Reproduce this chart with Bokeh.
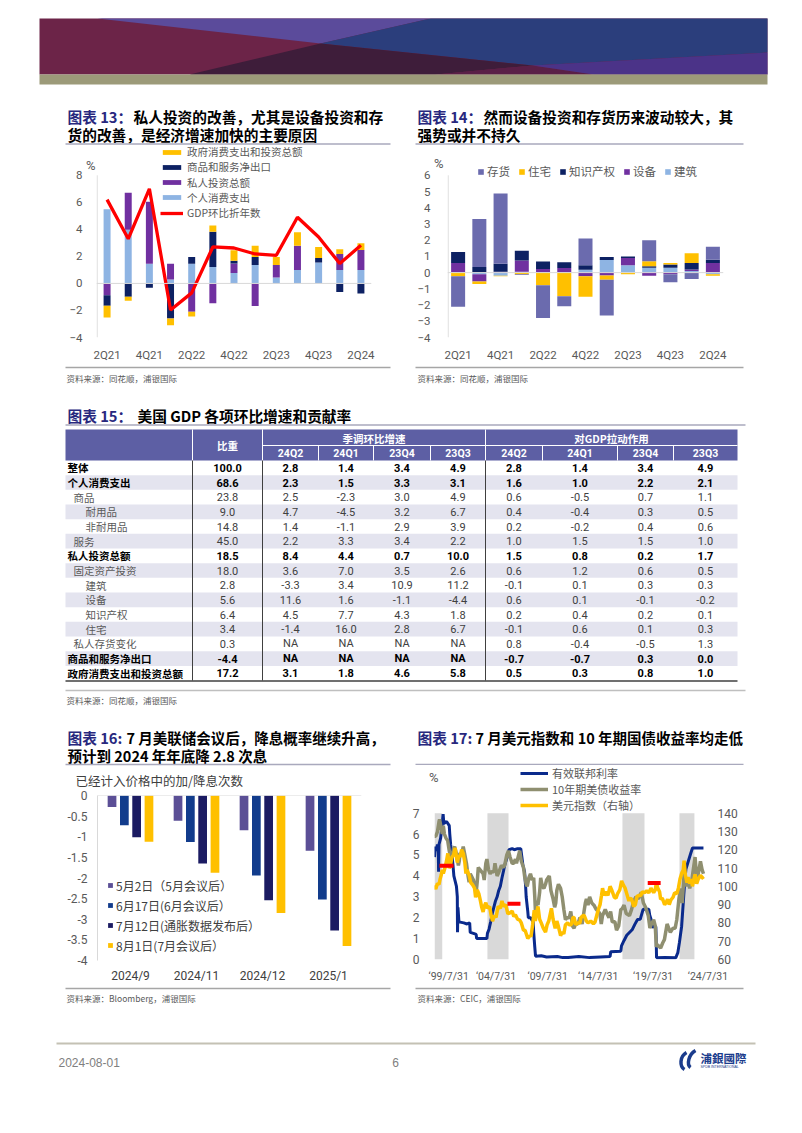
from bokeh.plotting import figure
from bokeh.layouts import column, row
from bokeh.models import (Range1d, FactorRange, FixedTicker, LinearAxis, Legend, LegendItem,
                          Span, ColumnDataSource, NumeralTickFormatter)
from bokeh.core.properties import value
from bokeh.embed import file_html
from bokeh.resources import INLINE
from bokeh.transform import dodge

# ---------------- DATA ----------------
# Chart 13
q13 = ["2Q21", "3Q21", "4Q21", "1Q22", "2Q22", "3Q22", "4Q22", "1Q23", "2Q23", "3Q23", "4Q23", "1Q24", "2Q24"]
pce13 = [5.49, 3.97, 1.45, 0.30, 1.45, 1.22, 0.78, 1.37, 0.44, 1.00, 1.54, 1.00, 1.00]
inv13 = [-0.88, 2.74, 4.60, 1.15, -2.10, -1.47, 0.69, -1.67, 0.93, 1.79, 0.00, 1.18, 1.47]
nx13 = [-0.78, -0.98, -0.32, -2.60, 0.50, 2.60, 0.20, 0.59, 0.00, 0.00, 0.34, -0.64, -0.74]
gov13 = [-0.86, -0.30, 0.00, -0.50, -0.35, 0.47, 0.78, 0.83, 0.59, 1.00, 0.81, 0.34, 0.51]
gdp13 = [6.2, 3.3, 7.0, -1.96, -0.7, 2.7, 2.62, 2.18, 2.08, 4.9, 3.43, 1.47, 2.82]
lab13 = ["政府消费支出和投资总额", "商品和服务净出口", "私人投资总额", "个人消费支出", "GDP环比折年数"]

# Chart 14
con14 = [0.00, -0.10, -0.20, 0.05, 0.00, 0.00, 0.18, 0.78, 0.45, 0.3, 0.3, 0.1, -0.1]
equ14 = [0.60, -0.45, 0.05, 0.70, 0.22, 0.29, -0.22, -0.17, 0.45, -0.2, -0.1, 0.1, 0.6]
ip14 = [0.67, 0.35, 0.50, 0.60, 0.47, 0.35, 0.27, 0.18, 0.10, 0.1, 0.2, 0.4, 0.2]
res14 = [-0.22, -0.15, -0.02, -0.10, -0.78, -1.45, -1.27, -0.27, -0.10, 0.3, 0.1, 0.6, -0.1]
stk14 = [-1.88, 2.95, 4.33, -0.05, -2.02, -0.63, 1.65, -2.20, 0.00, 1.3, -0.5, -0.4, 0.8]
lab14 = ["存货", "住宅", "知识产权", "设备", "建筑"]

# Table 15
rows15 = ["整体", "个人消费支出", "商品", "耐用品", "非耐用品", "服务", "私人投资总额", "固定资产投资",
          "建筑", "设备", "知识产权", "住宅", "私人存货变化", "商品和服务净出口", "政府消费支出和投资总额"]
indent15 = [0, 0, 1, 2, 2, 1, 0, 1, 2, 2, 2, 2, 1, 0, 0]
bold15 = [1, 1, 0, 0, 0, 0, 1, 0, 0, 0, 0, 0, 0, 1, 1]
weight15 = [100.0, 68.6, 23.8, 9.0, 14.8, 45.0, 18.5, 18.0, 2.8, 5.6, 6.4, 3.4, 0.3, -4.4, 17.2]
g24q2 = [2.8, 2.3, 2.5, 4.7, 1.4, 2.2, 8.4, 3.6, -3.3, 11.6, 4.5, -1.4, None, None, 3.1]
g24q1 = [1.4, 1.5, -2.3, -4.5, -1.1, 3.3, 4.4, 7.0, 3.4, 1.6, 7.7, 16.0, None, None, 1.8]
g23q4 = [3.4, 3.3, 3.0, 3.2, 2.9, 3.4, 0.7, 3.5, 10.9, -1.1, 4.3, 2.8, None, None, 4.6]
g23q3 = [4.9, 3.1, 4.9, 6.7, 3.9, 2.2, 10.0, 2.6, 11.2, -4.4, 1.8, 6.7, None, None, 5.8]
c24q2 = [2.8, 1.6, 0.6, 0.4, 0.2, 1.0, 1.5, 0.6, -0.1, 0.6, 0.2, -0.1, 0.8, -0.7, 0.5]
c24q1 = [1.4, 1.0, -0.5, -0.4, -0.2, 1.5, 0.8, 1.2, 0.1, 0.1, 0.4, 0.6, -0.4, -0.7, 0.3]
c23q4 = [3.4, 2.2, 0.7, 0.3, 0.4, 1.5, 0.2, 0.6, 0.3, -0.1, 0.2, 0.1, -0.5, 0.3, 0.8]
c23q3 = [4.9, 2.1, 1.1, 0.5, 0.6, 1.0, 1.7, 0.5, 0.3, -0.2, 0.1, 0.3, 1.3, 0.0, 1.0]
qhdr15 = ["24Q2", "24Q1", "23Q4", "23Q3", "24Q2", "24Q1", "23Q4", "23Q3"]

# Chart 16
g16 = ["2024/9", "2024/11", "2024/12", "2025/1"]
may2 = [-0.28, -0.61, -0.84, -1.34]
jun17 = [-0.72, -1.13, -1.94, -2.52]
jul12 = [-1.01, -1.65, -2.54, -3.27]
aug1 = [-1.12, -1.87, -2.85, -3.65]
lab16 = ["5月2日（5月会议后）", "6月17日(6月会议后）", "7月12日(通胀数据发布后）", "8月1日(7月会议后）"]

# Chart 17 (decimal years)
ffr_t = [1999.58, 1999.65, 1999.75, 1999.85, 1999.93, 1999.96, 2000.0, 2000.15, 2000.3, 2000.38, 2000.45,
         2000.7, 2000.95, 2001.0, 2001.08, 2001.2, 2001.3, 2001.38, 2001.5, 2001.62, 2001.7, 2001.72, 2001.76,
         2001.85, 2002.3, 2002.6, 2002.85, 2002.9, 2003.2, 2003.45, 2003.5, 2004.0, 2004.45, 2004.5, 2004.65,
         2004.8, 2004.95, 2005.1, 2005.25, 2005.4, 2005.55, 2005.7, 2005.85, 2006.0, 2006.1, 2006.25, 2006.4,
         2006.5, 2006.8, 2007.0, 2007.3, 2007.6, 2007.7, 2007.8, 2007.95, 2008.05, 2008.1, 2008.25, 2008.3,
         2008.5, 2008.75, 2008.8, 2008.9, 2008.97, 2009.5, 2010.0, 2011.0, 2011.5, 2012.0, 2013.0, 2014.0,
         2015.0, 2015.9, 2015.96, 2016.9, 2016.96, 2017.2, 2017.45, 2017.95, 2018.2, 2018.45, 2018.7, 2018.97,
         2019.5, 2019.58, 2019.72, 2019.83, 2020.15, 2020.18, 2020.22, 2021.0, 2022.0, 2022.2, 2022.35,
         2022.45, 2022.55, 2022.65, 2022.75, 2022.85, 2022.95, 2023.1, 2023.25, 2023.4, 2023.56, 2024.58]
ffr_v = [4.9, 5.4, 5.2, 5.5, 5.3, 4.2, 5.5, 5.8, 6.5, 6.95, 6.5,
         6.6, 6.4, 6.0, 5.5, 5.0, 4.5, 4.0, 3.75, 3.5, 3.0, 1.3, 2.5,
         1.8, 1.75, 1.7, 1.75, 1.3, 1.25, 1.2, 1.0, 1.0, 1.0, 1.25, 1.45,
         1.8, 2.2, 2.5, 2.8, 3.0, 3.3, 3.5, 3.9, 4.25, 4.5, 4.75, 5.0,
         5.25, 5.3, 5.25, 5.3, 5.3, 4.9, 4.5, 4.2, 3.5, 3.0, 2.3, 2.0,
         2.0, 1.8, 1.3, 0.6, 0.16, 0.18, 0.12, 0.14, 0.09, 0.10, 0.14, 0.09,
         0.12, 0.14, 0.37, 0.40, 0.65, 0.91, 1.16, 1.42, 1.68, 1.91, 1.92, 2.40,
         2.40, 2.13, 1.90, 1.55, 1.58, 1.10, 0.08, 0.09, 0.08, 0.33, 0.83,
         1.21, 1.58, 2.33, 3.08, 3.78, 4.33, 4.58, 4.83, 5.08, 5.33, 5.33]
ust_t = [1999.58, 1999.7, 1999.85, 2000.0, 2000.05, 2000.2, 2000.3, 2000.4, 2000.5, 2000.65, 2000.8, 2000.95,
         2001.05, 2001.2, 2001.35, 2001.45, 2001.6, 2001.7, 2001.8, 2001.88, 2001.95, 2002.1, 2002.25, 2002.4,
         2002.55, 2002.7, 2002.8, 2002.9, 2003.0, 2003.2, 2003.45, 2003.55, 2003.65, 2003.8, 2003.95, 2004.1,
         2004.2, 2004.35, 2004.45, 2004.6, 2004.75, 2004.9, 2005.1, 2005.2, 2005.4, 2005.5, 2005.65, 2005.8,
         2005.95, 2006.1, 2006.3, 2006.45, 2006.6, 2006.8, 2006.95, 2007.1, 2007.2, 2007.45, 2007.5, 2007.65,
         2007.85, 2007.95, 2008.1, 2008.2, 2008.35, 2008.5, 2008.65, 2008.8, 2008.9, 2008.97, 2009.1, 2009.2,
         2009.35, 2009.45, 2009.6, 2009.75, 2009.9, 2010.0, 2010.25, 2010.4, 2010.6, 2010.75, 2010.85, 2010.95,
         2011.1, 2011.3, 2011.45, 2011.6, 2011.75, 2011.9, 2012.1, 2012.25, 2012.4, 2012.55, 2012.7, 2012.9,
         2013.1, 2013.3, 2013.45, 2013.6, 2013.7, 2013.85, 2014.0, 2014.2, 2014.4, 2014.6, 2014.8, 2014.95,
         2015.08, 2015.2, 2015.45, 2015.6, 2015.8, 2015.95, 2016.1, 2016.35, 2016.5, 2016.7, 2016.9, 2017.0,
         2017.2, 2017.4, 2017.7, 2017.9, 2018.1, 2018.3, 2018.5, 2018.8, 2019.0, 2019.2, 2019.45, 2019.6,
         2019.75, 2019.95, 2020.1, 2020.2, 2020.3, 2020.6, 2020.8, 2020.95, 2021.2, 2021.5, 2021.75, 2021.95,
         2022.1, 2022.3, 2022.45, 2022.6, 2022.8, 2022.9, 2023.0, 2023.15, 2023.3, 2023.5, 2023.8, 2023.95,
         2024.1, 2024.3, 2024.45, 2024.58]
ust_v = [5.9, 5.9, 6.1, 6.6, 6.7, 6.3, 6.0, 6.4, 6.0, 5.8, 5.7, 5.2,
         5.0, 4.9, 5.3, 5.4, 5.1, 4.8, 4.5, 4.7, 5.1, 5.0, 5.4, 5.0,
         4.6, 4.0, 3.7, 4.1, 4.0, 3.8, 3.2, 3.7, 4.4, 4.3, 4.2, 4.1,
         3.8, 4.6, 4.8, 4.3, 4.1, 4.2, 4.2, 4.6, 4.0, 4.1, 4.3, 4.5,
         4.4, 4.5, 5.0, 5.2, 4.9, 4.6, 4.6, 4.8, 4.6, 5.1, 5.2, 4.7,
         4.4, 4.0, 3.6, 3.5, 3.9, 4.1, 3.8, 3.9, 3.0, 2.2, 2.8, 2.6,
         3.2, 3.9, 3.5, 3.4, 3.6, 3.8, 4.0, 3.3, 2.9, 2.5, 2.7, 3.3,
         3.6, 3.4, 3.0, 2.4, 1.9, 2.0, 2.0, 2.3, 1.6, 1.5, 1.7, 1.7,
         2.0, 1.7, 2.2, 2.7, 2.9, 2.6, 3.0, 2.7, 2.6, 2.4, 2.3, 2.2,
         1.7, 2.1, 2.4, 2.2, 2.0, 2.3, 1.8, 1.8, 1.4, 1.6, 2.4, 2.4,
         2.6, 2.2, 2.1, 2.4, 2.8, 3.0, 2.9, 3.2, 2.7, 2.5, 2.1, 1.5,
         1.7, 1.9, 1.6, 0.6, 0.7, 0.55, 0.8, 0.95, 1.7, 1.3, 1.5, 1.5,
         1.9, 2.9, 3.4, 2.7, 4.2, 3.7, 3.5, 3.9, 3.4, 3.8, 4.9, 3.9,
         4.1, 4.7, 4.3, 4.1]
dxy_t = [1999.58, 1999.7, 1999.85, 2000.0, 2000.1, 2000.2, 2000.3, 2000.4, 2000.55, 2000.7, 2000.82, 2000.95,
         2001.05, 2001.2, 2001.35, 2001.5, 2001.62, 2001.7, 2001.85, 2001.95, 2002.1, 2002.25, 2002.4, 2002.5,
         2002.6, 2002.8, 2002.95, 2003.1, 2003.3, 2003.4, 2003.55, 2003.7, 2003.85, 2003.95, 2004.1, 2004.2,
         2004.35, 2004.5, 2004.7, 2004.85, 2004.97, 2005.15, 2005.3, 2005.5, 2005.7, 2005.85, 2006.0, 2006.2,
         2006.4, 2006.6, 2006.8, 2006.95, 2007.1, 2007.3, 2007.5, 2007.65, 2007.85, 2008.0, 2008.25, 2008.45,
         2008.55, 2008.7, 2008.85, 2008.95, 2009.05, 2009.2, 2009.35, 2009.5, 2009.7, 2009.9, 2010.05, 2010.2,
         2010.45, 2010.6, 2010.8, 2010.95, 2011.1, 2011.3, 2011.45, 2011.6, 2011.75, 2011.95, 2012.1, 2012.3,
         2012.45, 2012.55, 2012.7, 2012.9, 2013.1, 2013.2, 2013.4, 2013.5, 2013.7, 2013.85, 2014.1, 2014.35,
         2014.5, 2014.7, 2014.85, 2014.97, 2015.1, 2015.2, 2015.35, 2015.5, 2015.7, 2015.9, 2016.05, 2016.3,
         2016.45, 2016.6, 2016.8, 2016.97, 2017.15, 2017.3, 2017.5, 2017.65, 2017.75, 2017.9, 2018.1, 2018.25,
         2018.4, 2018.6, 2018.75, 2018.9, 2019.1, 2019.3, 2019.5, 2019.7, 2019.8, 2019.95, 2020.1, 2020.22,
         2020.3, 2020.5, 2020.6, 2020.75, 2020.97, 2021.1, 2021.25, 2021.4, 2021.55, 2021.75, 2021.9, 2022.1,
         2022.25, 2022.4, 2022.55, 2022.7, 2022.78, 2022.9, 2023.05, 2023.15, 2023.3, 2023.45, 2023.55, 2023.7,
         2023.8, 2023.95, 2024.1, 2024.3, 2024.45, 2024.58]
dxy_v = [100.5, 98.5, 101.5, 101.0, 104.0, 106.0, 109.0, 107.0, 110.0, 114.0, 118.0, 110.0,
         111.0, 116.0, 117.0, 121.0, 116.0, 113.0, 117.0, 116.0, 120.0, 118.0, 113.0, 107.0,
         109.0, 106.0, 102.0, 101.0, 99.0, 94.0, 98.0, 96.0, 92.0, 89.0, 86.0, 89.0,
         91.0, 88.0, 89.0, 84.0, 81.0, 84.0, 83.0, 89.0, 88.0, 92.0, 89.0, 90.0,
         85.0, 85.5, 86.5, 83.5, 84.5, 82.0, 81.5, 80.0, 76.0, 76.0, 71.5, 73.0,
         72.5, 79.0, 87.0, 81.0, 85.0, 89.0, 82.0, 80.0, 77.0, 75.0, 79.0, 81.0,
         88.0, 82.0, 77.0, 81.0, 78.0, 73.0, 75.0, 74.0, 79.0, 80.0, 79.0, 79.0,
         83.0, 83.0, 79.0, 80.0, 80.0, 83.0, 84.0, 84.0, 81.0, 80.0, 81.0, 79.5,
         80.5, 85.0, 88.0, 90.0, 95.0, 99.0, 95.0, 97.0, 95.0, 100.0, 98.0, 94.0,
         93.5, 96.0, 98.0, 103.0, 100.5, 99.0, 95.0, 92.0, 93.5, 93.0, 89.0, 90.0,
         94.5, 95.0, 95.0, 97.0, 96.5, 97.5, 96.5, 99.0, 98.0, 96.5, 98.0, 102.8,
         99.5, 97.0, 93.0, 93.5, 90.0, 91.0, 93.0, 90.0, 92.5, 94.0, 96.5, 96.0,
         99.0, 104.0, 107.0, 109.0, 114.0, 106.0, 102.0, 105.0, 101.5, 104.0, 100.0, 104.0,
         106.5, 101.5, 104.0, 106.0, 105.0, 104.0]
band_s = [1999.58, 2004.5, 2017.05, 2022.35]
band_e = [2000.3, 2006.46, 2019.1, 2023.74]
red_s = [2000.04, 2006.36, 2019.4]
red_e = [2001.35, 2007.57, 2020.6]
red_v = [111.3, 90.5, 101.8]
lab17 = ["有效联邦利率", "10年期美债收益率", "美元指数（右轴）"]
xt17 = [2000.9, 2005.3, 2010.1, 2014.8, 2019.9, 2025.0]
xl17 = ["‘99/7/31", "‘04/7/31", "‘09/7/31", "‘14/7/31", "‘19/7/31", "‘24/7/31"]

# ---------------- STYLE ----------------
CJK = "Noto Sans CJK SC"
NUMF = "Roboto"
GT = "#595959"
NAVY_T = "#28287E"
YEL = "#FFC000"
LBLUE = "#8EB4E3"
PURP = "#7030A0"
NAVY = "#0D2163"
SLATE = "#6B6BAE"


def canvas(x0, x1, y0, y1):
    p = figure(width=x1 - x0, height=y1 - y0, x_range=Range1d(x0, x1), y_range=Range1d(y1, y0),
               x_axis_location=None, y_axis_location=None, output_backend="svg",
               toolbar_location=None, min_border=0, title=None, frame_align=False)
    p.outline_line_color = None
    p.grid.visible = False
    return p


def T(p, xs, ys, texts, size, color="#000000", bold=False, align="left", font=CJK):
    p.text(x=xs, y=ys, text=texts, text_font=value(font), text_font_size=size, text_color=color,
           text_font_style="bold" if bold else "normal", text_align=align, text_baseline="middle")


def hline(p, x0, x1, y, color, w):
    p.line([x0, x1], [y, y], line_color=color, line_width=w)


def stack(series):
    n = len(series[0])
    pos = [0.0] * n
    neg = [0.0] * n
    out = []
    for s in series:
        b, t = [], []
        for i, v in enumerate(s):
            if v >= 0:
                b.append(pos[i]); t.append(pos[i] + v); pos[i] += v
            else:
                b.append(neg[i]); t.append(neg[i] + v); neg[i] += v
        out.append((b, t))
    return out


def style_axes(p, size="11.5px"):
    for ax in p.axis:
        ax.axis_line_color = None
        ax.major_tick_line_color = None
        ax.minor_tick_line_color = None
        ax.major_tick_out = 0
        ax.major_label_text_font = NUMF
        if ax.major_label_text_font_size != "13px":
            ax.major_label_text_font_size = size
        ax.major_label_text_color = GT
    p.grid.visible = False
    p.outline_line_color = None


def chart_fig(w, h, xr, yr, l, r, t, b):
    return figure(width=w, height=h, x_range=xr, y_range=yr, output_backend="svg",
                  toolbar_location=None, title=None, min_border_left=l, min_border_right=r,
                  min_border_top=t, min_border_bottom=b, frame_align=False, y_axis_location=None)


def add_left_axes(p, ticks, pct_tick, s_pct, s_num, fmt=None):
    pa = LinearAxis(ticker=FixedTicker(ticks=[pct_tick]), major_label_overrides={pct_tick: "%"},
                    major_label_standoff=s_pct, major_label_text_font_size="13px")
    p.add_layout(pa, "left")
    na = LinearAxis(ticker=FixedTicker(ticks=ticks), major_label_standoff=s_num)
    if fmt is not None:
        na.formatter = fmt
    p.add_layout(na, "left")
    return na


def one_legend(p, label, rend, x, y, gw, gh, size, color=GT):
    lg = Legend(items=[LegendItem(label=label, renderers=[rend])], location=(x, y),
                orientation="vertical", glyph_width=gw, glyph_height=gh, label_height=16,
                spacing=0, padding=0, margin=0, label_standoff=4, label_text_font=CJK,
                label_text_font_size=size, label_text_color=color,
                background_fill_alpha=0, border_line_color=None)
    p.add_layout(lg)


def quarter_axis(p, cats, pos):
    p.xaxis.ticker = FixedTicker(ticks=pos[::2])
    p.xaxis.major_label_overrides = dict(zip(pos[::2], cats[::2]))
    p.xaxis.major_label_standoff = 10


# ---------------- HEADER ----------------
header = canvas(0, 802, 0, 98)
header.patches(xs=[[39, 767, 767, 39], [97, 430, 320], [430, 767, 767, 532, 320], [189, 320, 532, 435],
                   [435, 532, 593], [532, 767, 767, 593]],
               ys=[[18, 18, 74, 74], [18, 18, 43], [18, 18, 52, 65, 43], [74, 43, 65, 74],
                   [74, 65, 74], [65, 52, 74, 74]],
               fill_color=["#6C2448", "#5B4B9B", "#2B3E7C", "#3E1D3A", "#5A1F47", "#4B3388"],
               line_color=None)
header.quad(left=[39], right=[767], top=[74], bottom=[84], fill_color="#9C9A79", line_color=None)

# x positions for the quarterly bar charts (category centres)
xq = [i + 0.5 for i in range(len(q13))]

# ---------------- CHART 13 ----------------
t13 = canvas(0, 401, 98, 145)
T(t13, [67], [115.5], ["图表 13："], "14.7px", NAVY_T, True)
T(t13, [133], [115.5], ["私人投资的改善，尤其是设备投资和存"], "14.7px", "#000000", True)
T(t13, [67], [134], ["货的改善，是经济增速加快的主要原因"], "14.7px", "#000000", True)
hline(t13, 65, 390, 143.5, "#A9A9BD", 1.3)

p13 = chart_fig(401, 219, Range1d(0, len(q13)), Range1d(-4, 8 + 30 / 13.61), 96, 30, 0, 26)
st13 = stack([pce13, inv13, nx13, gov13])
rends13 = []
for (b, t), c in zip(st13, [LBLUE, PURP, NAVY, YEL]):
    rends13.append(p13.vbar(x=xq, bottom=b, top=t, width=0.33, fill_color=c, line_color=None))
p13.add_layout(Span(location=0, dimension="width", line_color="#D9D9D9", line_width=1))
p13.segment(x0=[0.03], x1=[0.03], y0=[-4], y1=[8], line_color="#D9D9D9", line_width=1)
r_gdp = p13.line(x=xq, y=gdp13, line_color="#FF0000", line_width=3.3)
add_left_axes(p13, [-4, -2, 0, 2, 4, 6, 8], 8.73, 1, 0)
style_axes(p13)
quarter_axis(p13, q13, xq)
for lab, rend, vy in zip(lab13, [rends13[3], rends13[2], rends13[1], rends13[0], r_gdp],
                         [177.5, 162.2, 146.9, 131.6, 116.3]):
    one_legend(p13, lab, rend, 64, vy, 23, 6, "10.5px")

s13 = canvas(0, 401, 364, 388)
hline(s13, 65, 390, 367, "#A6A6A6", 1.3)
T(s13, [66], [377.5], ["资料来源：同花顺，浦银国际"], "8.5px", GT)

# ---------------- CHART 14 ----------------
t14 = canvas(401, 802, 98, 145)
T(t14, [417], [115.5], ["图表 14："], "14.7px", NAVY_T, True)
T(t14, [483], [115.5], ["然而设备投资和存货历来波动较大，其"], "14.7px", "#000000", True)
T(t14, [417], [134], ["强势或并不持久"], "14.7px", "#000000", True)
hline(t14, 415, 743, 143.5, "#A9A9BD", 1.3)

p14 = chart_fig(401, 219, Range1d(0, len(q13)), Range1d(-4, 6 + 30 / 16.33), 46, 79, 0, 26)
st14 = stack([con14, equ14, ip14, res14, stk14])
rends14 = []
for (b, t), c in zip(st14, [LBLUE, PURP, NAVY, YEL, SLATE]):
    rends14.append(p14.vbar(x=xq, bottom=b, top=t, width=0.66, fill_color=c, line_color=None))
p14.add_layout(Span(location=0, dimension="width", line_color="#D9D9D9", line_width=1))
p14.segment(x0=[0.03], x1=[0.03], y0=[-4], y1=[6], line_color="#D9D9D9", line_width=1)
add_left_axes(p14, list(range(-4, 7)), 6.73, 4, 0)
style_axes(p14)
quarter_axis(p14, q13, xq)
leg14 = Legend(items=[LegendItem(label=lab14[0], renderers=[rends14[4]]),
                      LegendItem(label=lab14[1], renderers=[rends14[3]]),
                      LegendItem(label=lab14[2], renderers=[rends14[2]]),
                      LegendItem(label=lab14[3], renderers=[rends14[1]]),
                      LegendItem(label=lab14[4], renderers=[rends14[0]])],
               location=(30, 158), orientation="horizontal", glyph_width=7, glyph_height=7,
               label_height=16, spacing=8, padding=0, margin=0, label_standoff=3,
               label_text_font=CJK, label_text_font_size="11.5px", label_text_color=GT,
               background_fill_alpha=0, border_line_color=None)
p14.add_layout(leg14)

s14 = canvas(401, 802, 364, 388)
hline(s14, 415, 743, 367, "#A6A6A6", 1.3)
T(s14, [417], [377.5], ["资料来源：同花顺，浦银国际"], "8.5px", GT)

# ---------------- TABLE 15 ----------------
tab = canvas(0, 802, 388, 712)
T(tab, [67], [414.5], ["图表 15："], "14.7px", NAVY_T, True)
T(tab, [137], [414.5], ["美国 GDP 各项环比增速和贡献率"], "14.7px", "#000000", True)
hline(tab, 65, 745, 424.5, "#A9A9BD", 1.3)
edges = [65, 192, 262, 318, 373, 430, 485, 542, 617, 673, 737]
ROW_TOP, RH = 460.0, 14.67
HDR = "#5D5FA4"
tab.quad(left=[65], right=[737], top=[429], bottom=[460], fill_color=HDR, line_color=None)
shade_top = [ROW_TOP + i * RH for i in range(len(rows15)) if i % 2 == 1]
tab.quad(left=65, right=737, top=shade_top, bottom=[y + RH for y in shade_top],
         fill_color="#E4E4EF", line_color=None)
tab.segment(x0=[192, 262, 485], x1=[192, 262, 485], y0=[429] * 3, y1=[460] * 3, line_color="white", line_width=1)
tab.segment(x0=edges[3:6] + edges[7:10], x1=edges[3:6] + edges[7:10], y0=[445] * 6, y1=[460] * 6,
            line_color="white", line_width=1)
hline(tab, 262, 737, 445, "white", 1)
T(tab, [227], [444.5], ["比重"], "10.5px", "white", True, "center")
T(tab, [373.5], [437.5], ["季调环比增速"], "10.5px", "white", True, "center")
T(tab, [611], [437.5], ["对GDP拉动作用"], "10.5px", "white", True, "center")
qc = [(edges[i] + edges[i + 1]) / 2 for i in range(2, 10)]
T(tab, qc, [452.5] * 8, qhdr15, "10.5px", "white", True, "center", NUMF)
tab.segment(x0=[192, 262, 485], x1=[192, 262, 485], y0=[460] * 3, y1=[680] * 3,
            line_color="#404040", line_width=1)
hline(tab, 65, 737, 680.5, "#404040", 1.5)


def fmt(v):
    return "NA" if v is None else f"{v:.1f}"


cx, cy, ct, cc, cs = [], [], [], [], []
lx, ly, lt, lc, ls = [], [], [], [], []
cols = [weight15, g24q2, g24q1, g23q4, g23q3, c24q2, c24q1, c23q4, c23q3]
for i, name in enumerate(rows15):
    y = ROW_TOP + RH * (i + 0.5)
    b = bold15[i] == 1
    lx.append(67 + [0, 6, 18][indent15[i]]); ly.append(y); lt.append(name)
    lc.append("#000000" if b else GT); ls.append("bold" if b else "normal")
    for j, col in enumerate(cols):
        cx.append((edges[j + 1] + edges[j + 2]) / 2); cy.append(y); ct.append(fmt(col[i]))
        cc.append("#000000" if b else "#404040"); cs.append("bold" if b else "normal")
tab.text(x="x", y="y", text="t", text_color="c", text_font_style="s",
         source=ColumnDataSource(dict(x=lx, y=ly, t=lt, c=lc, s=ls)),
         text_font=value(CJK), text_font_size="10.5px", text_baseline="middle", text_align="left")
tab.text(x="x", y="y", text="t", text_color="c", text_font_style="s",
         source=ColumnDataSource(dict(x=cx, y=cy, t=ct, c=cc, s=cs)),
         text_font=value(NUMF), text_font_size="11px", text_baseline="middle", text_align="center")
hline(tab, 65, 745, 690, "#BFBFBF", 1.3)
T(tab, [66], [699.5], ["资料来源：同花顺，浦银国际"], "8.5px", GT)

# ---------------- CHART 16 ----------------
t16 = canvas(0, 401, 712, 790)
T(t16, [67], [737], ["图表 16:"], "14.7px", NAVY_T, True)
T(t16, [126], [737], ["7 月美联储会议后，降息概率继续升高，"], "14.5px", "#000000", True)
T(t16, [67], [755], ["预计到 2024 年年底降 2.8 次息"], "14.5px", "#000000", True)
hline(t16, 65, 390, 764, "#A9A9BD", 1.3)
T(t16, [75], [779.5], ["已经计入价格中的加/降息次数"], "12.5px", "#404040")

p16 = chart_fig(401, 195, FactorRange(*g16), Range1d(-4, 0), 97, 40, 5, 22)
src16 = ColumnDataSource(dict(g=g16, a=may2, b=jun17, c=jul12, d=aug1))
rends16 = []
for key, off, c in zip(["a", "b", "c", "d"], [-0.28, -0.093, 0.093, 0.28],
                       ["#5B4F96", "#123C8C", "#1B1B62", YEL]):
    rends16.append(p16.vbar(x=dodge("g", off, range=p16.x_range), top=key, bottom=0, width=0.132,
                            source=src16, fill_color=c, line_color=None))
p16.add_layout(Span(location=0, dimension="width", line_color="#D9D9D9", line_width=1))
ax16 = LinearAxis(ticker=FixedTicker(ticks=[-4, -3.5, -3, -2.5, -2, -1.5, -1, -0.5, 0]),
                  formatter=NumeralTickFormatter(format="0.[0]"), major_label_standoff=10)
p16.add_layout(ax16, "left")
style_axes(p16, "12px")
ax16.axis_line_color = "#D9D9D9"
p16.xaxis.major_label_standoff = 8
p16.xaxis.major_label_text_color = "#404040"
leg16 = Legend(items=[LegendItem(label=l, renderers=[r]) for l, r in zip(lab16, rends16)],
               location=(10, 5), orientation="vertical", glyph_width=6, glyph_height=6,
               label_height=20, spacing=0, padding=0, margin=0, label_standoff=3,
               label_text_font=CJK, label_text_font_size="12px", label_text_color="#404040",
               background_fill_alpha=0, border_line_color=None)
p16.add_layout(leg16)

s16 = canvas(0, 401, 985, 1010)
hline(s16, 65, 390, 988, "#A6A6A6", 1.3)
T(s16, [66], [997.5], ["资料来源：Bloomberg，浦银国际"], "8.5px", GT)

# ---------------- CHART 17 ----------------
t17 = canvas(401, 802, 712, 765)
T(t17, [417], [737], ["图表 17:"], "14.7px", NAVY_T, True)
T(t17, [475], [737], ["7 月美元指数和 10 年期国债收益率均走低"], "14.5px", "#000000", True)
hline(t17, 415, 743, 764, "#A9A9BD", 1.3)

TOP17 = 7 + 47.7 / 20.94
p17 = chart_fig(401, 220, Range1d(1999.58, 2025.42), Range1d(0, TOP17), 33, 90, 0, 26)
p17.extra_y_ranges = {"dxy": Range1d(60, 60 + TOP17 * 80 / 7)}
p17.quad(left=band_s, right=band_e, bottom=0, top=7, fill_color="#D9D9D9", line_color=None)
r_ffr = p17.line(ffr_t, ffr_v, line_color="#0A2A8C", line_width=3)
r_ust = p17.line(ust_t, ust_v, line_color="#8F8F70", line_width=3.5)
r_dxy = p17.line(dxy_t, dxy_v, y_range_name="dxy", line_color=YEL, line_width=3.5)
p17.segment(x0=red_s, x1=red_e, y0=red_v, y1=red_v, y_range_name="dxy", line_color="#FF0000", line_width=4)
add_left_axes(p17, list(range(0, 8)), 8.7, -4, 6)
p17.add_layout(LinearAxis(y_range_name="dxy", ticker=FixedTicker(ticks=list(range(60, 141, 10))),
                          major_label_standoff=5), "right")
style_axes(p17, "12px")
p17.xaxis.ticker = FixedTicker(ticks=xt17)
p17.xaxis.major_label_overrides = dict(zip(xt17, xl17))
p17.xaxis.major_label_standoff = 10
p17.xaxis.major_label_text_font_size = "10.5px"
for lab, rend, vy in zip(lab17, [r_ffr, r_ust, r_dxy], [178, 162, 146]):
    one_legend(p17, lab, rend, 86, vy, 28, 14, "11px")

s17 = canvas(401, 802, 985, 1010)
hline(s17, 415, 743, 988, "#A6A6A6", 1.3)
T(s17, [417], [997.5], ["资料来源：CEIC，浦银国际"], "8.5px", GT)

# ---------------- FOOTER ----------------
foot = canvas(0, 802, 1010, 1133)
hline(foot, 56, 755, 1043, "#C4C1B4", 2)
T(foot, [58], [1062], ["2024-08-01"], "12px", "#808080", font="Liberation Sans")
T(foot, [395], [1062], ["6"], "12px", "#808080", align="center", font="Liberation Sans")
foot.bezier(x0=[686, 695], y0=[1052, 1050], x1=[684, 690], y1=[1069, 1067],
            cx0=[679, 688], cy0=[1056, 1054], cx1=[679, 686], cy1=[1066, 1064],
            line_color="#1B3C8C", line_width=3.5)
T(foot, [700], [1057], ["浦銀國際"], "11.5px", "#1B3C8C", True)
T(foot, [700], [1066.5], ["SPDB INTERNATIONAL"], "3.5px", "#1B3C8C", font="Liberation Sans")

page = column(header, row(column(t13, p13, s13), column(t14, p14, s14)), tab,
              row(column(t16, p16, s16), column(t17, p17, s17)), foot)
open("out.html", "w").write(file_html(page, INLINE, title="page"))
